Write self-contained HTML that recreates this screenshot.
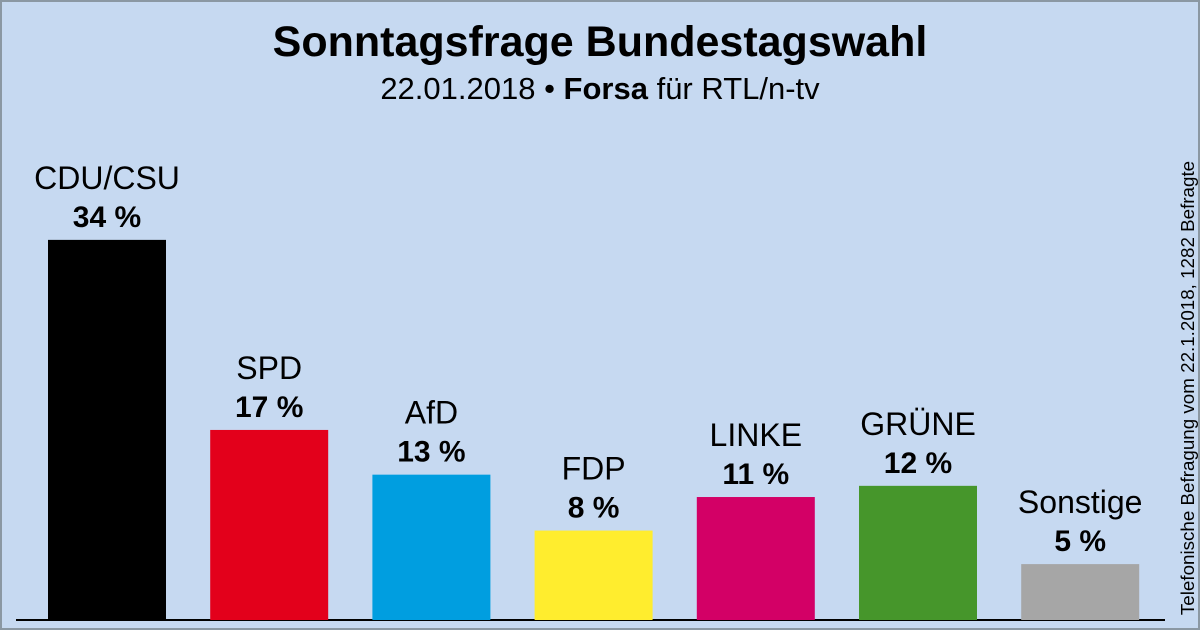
<!DOCTYPE html>
<html><head><meta charset="utf-8"><style>
body{margin:0}
#c{width:1200px;height:630px;position:relative;background:#c6d9f1;box-sizing:border-box;border:2px solid #8b98a3;font-family:"Liberation Sans",sans-serif;overflow:hidden}
</style></head><body>
<div id="c">
<svg id="s" width="1196" height="626" style="position:absolute;left:0;top:0">
<text x="598" y="54" text-anchor="middle" font-size="43" font-weight="bold" fill="#000">Sonntagsfrage Bundestagswahl</text>
<text x="598" y="97" text-anchor="middle" font-size="31" fill="#000">22.01.2018 • <tspan font-weight="bold">Forsa</tspan> für RTL/n-tv</text>
<text transform="translate(1192,386) rotate(-90)" text-anchor="middle" font-size="18.8" fill="#000">Telefonische Befragung vom 22.1.2018, 1282 Befragte</text>
<line x1="14" x2="1163" y1="618" y2="618" stroke="#000" stroke-width="2"/>
<g id="bars"></g>
</svg>
</div>
<script>
const parties=["CDU/CSU","SPD","AfD","FDP","LINKE","GRÜNE","Sonstige"];
const values=[34,17,13,8,11,12,5];
const colors=["#000000","#e3001b","#009ee0","#ffed2e","#d30066","#46962b","#a6a6a6"];
const svgNS="http://www.w3.org/2000/svg";
const g=document.getElementById('bars');
const base=618,scale=11.18,x0=46,step=162.2,bw=118;
function y(v){return base-v*scale;}
parties.forEach((p,i)=>{
  const x=x0+i*step, top=y(values[i]);
  const r=document.createElementNS(svgNS,'rect');
  r.setAttribute('x',x);r.setAttribute('y',top);r.setAttribute('width',bw);r.setAttribute('height',base-top);r.setAttribute('fill',colors[i]);
  
  
  g.appendChild(r);
  const t=document.createElementNS(svgNS,'text');
  t.setAttribute('x',x+bw/2);t.setAttribute('y',top-51);t.setAttribute('text-anchor','middle');t.setAttribute('font-size','32');
  t.textContent=p;
  
  
  g.appendChild(t);
  const v=document.createElementNS(svgNS,'text');
  v.setAttribute('x',x+bw/2);v.setAttribute('y',top-13);v.setAttribute('text-anchor','middle');v.setAttribute('font-size','30');v.setAttribute('font-weight','bold');
  v.textContent=values[i]+' %';
  
  
  g.appendChild(v);
});
</script>
</body></html>
